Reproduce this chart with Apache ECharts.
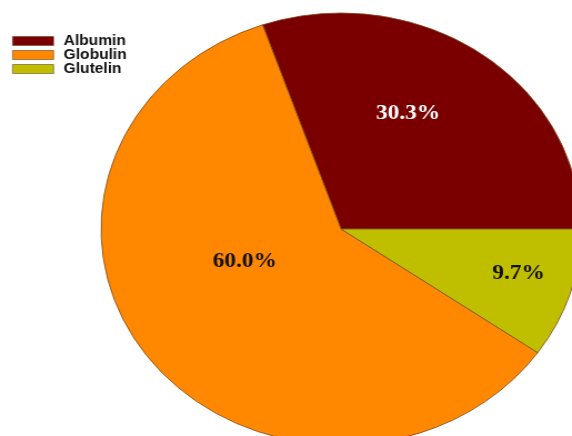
<!DOCTYPE html>
<html>
<head>
<meta charset="utf-8">
<script src="https://cdn.jsdelivr.net/npm/echarts@6/dist/echarts.min.js"></script>
<style>
html, body { margin: 0; padding: 0; background: #fff; overflow: hidden; }
/* the source picture is a round pie stretched sideways, so stretch the canvas the same way */
#main { width: 515px; height: 436px; transform: scaleX(1.1107); transform-origin: 0 0; }
</style>
</head>
<body>
<div id="main"></div>
<script>
// protein fractions
var names = ['Albumin', 'Globulin', 'Glutelin'];
var values = [30.3, 60.0, 9.7];
var colors = ['#7a0000', '#ff8800', '#bfbf00'];
var labelColors = ['#ffffff', '#111111', '#111111'];
// label nudges (px) to sit where the original put them
var labelOffsets = [[-4, -25], [2, -34], [54, 11]];

var pieData = [];
for (var i = 0; i < names.length; i++) {
	pieData.push({
		name : names[i],
		value : values[i],
		itemStyle : { color : colors[i] },
		label : { color : labelColors[i], offset : labelOffsets[i] }
	});
}

var chart = echarts.init(document.getElementById('main'));
chart.setOption({
	animation : false,
	legend : {
		orient : 'vertical',
		left : 11,
		top : 34,
		padding : 0,
		itemWidth : 37,
		itemHeight : 9,
		itemGap : 0,
		icon : 'rect',
		itemStyle : { borderColor : '#6b4a2a', borderWidth : 0.6 },
		textStyle : {
			fontFamily : 'Liberation Sans, Arial, sans-serif',
			fontWeight : 'bold',
			fontSize : 14,
			lineHeight : 13,
			padding : [0, 0, 0, 4],
			color : '#111'
		},
		data : names
	},
	series : [{
		type : 'pie',
		center : [307, 229],
		radius : 216,
		startAngle : 0,
		clockwise : false,
		silent : true,
		itemStyle : { borderColor : '#7a4a20', borderWidth : 0.8 },
		label : {
			show : true,
			position : 'inside',
			formatter : function(p) { return p.value.toFixed(1) + '%'; },
			fontFamily : 'Liberation Serif, Times New Roman, serif',
			fontWeight : 'bold',
			fontSize : 21
		},
		labelLine : { show : false },
		data : pieData
	}]
});
</script>
</body>
</html>
